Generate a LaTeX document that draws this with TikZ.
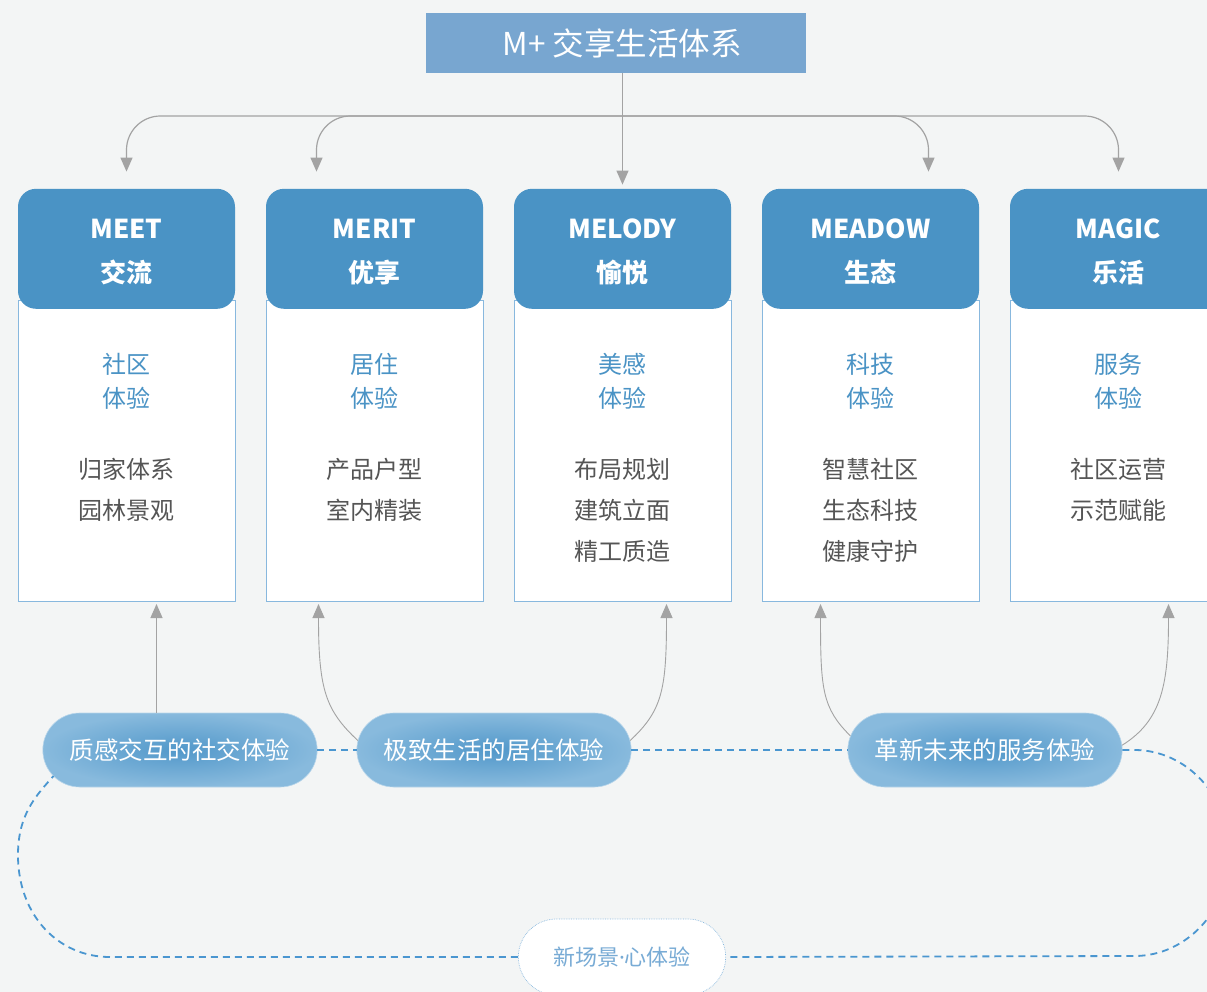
\documentclass[tikz,border=0pt]{standalone}
\usepackage{fontspec}
\setmainfont{Noto Sans CJK SC}
\newfontfamily\latinfont{Noto Sans}
\usetikzlibrary{arrows.meta, positioning, backgrounds, shapes.misc}

\definecolor{pagebg}{HTML}{F3F5F5}
\definecolor{titlefill}{HTML}{78A6D0}
\definecolor{headfill}{HTML}{4A93C5}
\definecolor{bodyline}{HTML}{88B8DE}
\definecolor{subblue}{HTML}{4A93C5}
\definecolor{itemgrey}{HTML}{555555}
\definecolor{arrowgrey}{HTML}{A3A3A3}
\definecolor{pillin}{HTML}{5298CA}
\definecolor{pillout}{HTML}{88BADD}
\definecolor{linkblue}{HTML}{4A96D0}
\definecolor{scenetext}{HTML}{78ABD5}

\begin{document}
\begin{tikzpicture}[
        x=1pt, y=-1pt,
        title/.style={rectangle, fill=titlefill, text=white, minimum width=380pt, minimum height=60pt, font=\fontsize{31.5}{36}\selectfont},
        head/.style={rectangle, rounded corners=18pt, fill=headfill, text=white, align=center, minimum width=217pt, minimum height=120pt, font=\fontsize{26}{44}\selectfont\bfseries},
        body/.style={rectangle, fill=white, draw=bodyline, line width=0.9pt, outer sep=0pt, minimum width=217pt, minimum height=301pt},
        sub/.style={align=center, inner sep=0pt, text=subblue, font=\fontsize{24}{34}\selectfont},
        item/.style={align=center, inner sep=0pt, anchor=north, text=itemgrey, font=\fontsize{24}{41}\selectfont},
        pill/.style={rounded rectangle, inner color=pillin, outer color=pillout, draw=pillout!60!white, line width=0.6pt, text=white, minimum width=281pt, minimum height=74pt, font=\fontsize{24.5}{28}\selectfont},
        scene/.style={rounded rectangle, fill=white, draw=bodyline, densely dotted, line width=0.7pt, text=scenetext, minimum width=214pt, minimum height=76pt, font=\fontsize{22}{26}\selectfont},
        link/.style={draw=linkblue, dash pattern=on 7pt off 5pt, line width=1.8pt},
        arr/.style={draw=arrowgrey, line width=1.2pt, ->},
        >={Triangle[length=14pt, width=12pt]}
      ]

      \useasboundingbox (0,0) rectangle (1207,992);
      \fill[pagebg] (0,0) rectangle (1207,992);

      % Title
      \node[title] (title) at (616,43) {\hspace*{12pt}M+ 交享生活体系};

      % Column bodies
      \node[body] (b1) at (126.5,450.5) {};
      \node[body, right=31pt of b1] (b2) {};
      \node[body, right=31pt of b2] (b3) {};
      \node[body, right=31pt of b3] (b4) {};
      \node[body, right=31pt of b4] (b5) {};

      % Column heads
      \node[head, above=-9pt of b1.north] (h1) {\rule{0pt}{25pt}MEET\\交流};
      \node[head, above=-9pt of b2.north] (h2) {\rule{0pt}{25pt}MERIT\\优享};
      \node[head, above=-9pt of b3.north] (h3) {\rule{0pt}{25pt}MELODY\\愉悦};
      \node[head, above=-9pt of b4.north] (h4) {\rule{0pt}{25pt}MEADOW\\生态};
      \node[head, above=-9pt of b5.north] (h5) {\rule{0pt}{25pt}MAGIC\\乐活};

      % Experience labels
      \node[sub] (s1) at ([yshift=-81pt]b1.north) {社区\\体验};
      \node[sub] (s2) at ([yshift=-81pt]b2.north) {居住\\体验};
      \node[sub] (s3) at ([yshift=-81pt]b3.north) {美感\\体验};
      \node[sub] (s4) at ([yshift=-81pt]b4.north) {科技\\体验};
      \node[sub] (s5) at ([yshift=-81pt]b5.north) {服务\\体验};

      % Items
      \node[item] (i1) at ([yshift=-158pt]b1.north) {归家体系\\园林景观};
      \node[item] (i2) at ([yshift=-158pt]b2.north) {产品户型\\室内精装};
      \node[item] (i3) at ([yshift=-158pt]b3.north) {布局规划\\建筑立面\\精工质造};
      \node[item] (i4) at ([yshift=-158pt]b4.north) {智慧社区\\生态科技\\健康守护};
      \node[item] (i5) at ([yshift=-158pt]b5.north) {社区运营\\示范赋能};

      % Experience pills
      \node[pill] (p1) at (180,750) {质感交互的社交体验};
      \node[pill] (p2) at (494,750) {极致生活的居住体验};
      \node[pill] (p3) at (985,750) {革新未来的服务体验};
      \node[scene] (scene) at (622,957) {新场景{\latinfont ·}心体验};

      % Title to columns
      \coordinate (bus) at (623,116);
      \draw[arr] (h3.north |- title.south) -- ([yshift=4pt]h3.north);
      \draw[arr, rounded corners=34pt] (bus) -| ([yshift=17pt]h1.north);
      \draw[arr, rounded corners=34pt] (bus) -| ([xshift=-58pt, yshift=17pt]h2.north);
      \draw[arr, rounded corners=34pt] (bus) -| ([xshift=58pt, yshift=17pt]h4.north);
      \draw[arr, rounded corners=34pt] (bus) -| ([yshift=17pt]h5.north);

      % Pills to columns
      \draw[arr] ([xshift=30pt]b1.south |- p1.north) -- ([xshift=30pt, yshift=-3pt]b1.south);
      \draw[arr, line width=0.9pt] (p2.176) .. controls +(-32,-30) and +(0,86) .. ([xshift=-56pt, yshift=-3pt]b2.south);
      \draw[arr, line width=0.9pt] (p2.4) .. controls +(32,-30) and +(0,86) .. ([xshift=44pt, yshift=-3pt]b3.south);
      \draw[arr, line width=0.9pt] (p3.174) .. controls +(-28,-28) and +(0,86) .. ([xshift=-50pt, yshift=-3pt]b4.south);
      \draw[arr, line width=0.9pt] (p3.2) .. controls +(40,-25) and +(0,80) .. ([xshift=50pt, yshift=-3pt]b5.south);

      % Dashed loop
      \draw[link] (p1.east) -- (p2.west);
      \draw[link] (p2.east) -- (p3.west);
      \draw[link] (p3.east) -- ++(12,0) .. controls +(52,0) and +(0,-57) .. ++(95,103)
                  .. controls +(0,57) and +(52,0) .. ++(-95,103) -- (scene.east);
      \draw[link] (scene.west) -- ++(-408,0) .. controls +(-52,0) and +(0,60) .. ++(-92,-102)
                  .. controls +(0,-40) and +(-18,20) .. ([shift={(11pt,-26pt)}]p1.west);

      \end{tikzpicture}
\end{document}
